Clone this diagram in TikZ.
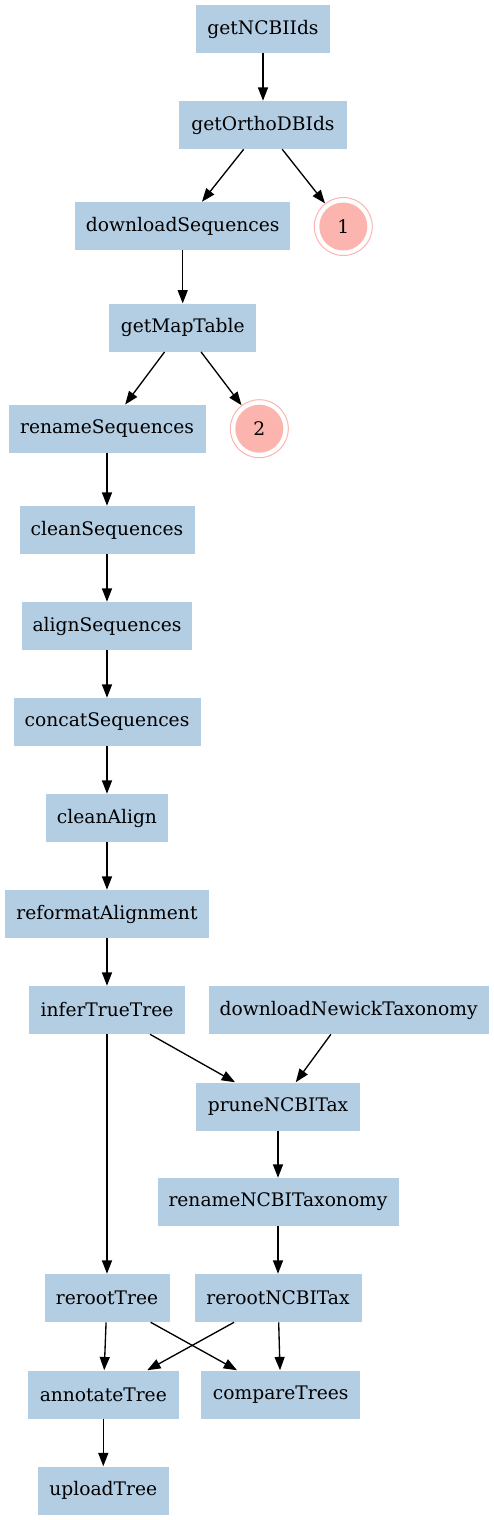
\documentclass[tikz,border=0pt]{standalone}
\usepackage{fontspec}
\setmainfont{DejaVu Serif}
\usetikzlibrary{arrows.meta}
\definecolor{boxblue}{HTML}{B3CDE3}
\definecolor{salmon}{HTML}{FBB4AE}
\begin{document}
\begin{tikzpicture}[x=0.75pt,y=-0.75pt,
  gbox/.style={fill=boxblue, minimum height=36pt, minimum width=#1*0.75pt, inner sep=0pt, font=\fontsize{14pt}{16pt}\selectfont},
  gbox/.default=72,
  dcirc/.style={circle, draw=salmon, line width=0.75pt, minimum size=43.5pt, inner sep=0pt,
    path picture={\fill[salmon] (path picture bounding box.center) circle (18pt);},
    font=\fontsize{14pt}{16pt}\selectfont},
  arr/.style={line width=1pt, -{Triangle[length=10pt,width=7.5pt]}}]
\useasboundingbox (0,0) rectangle (493,1520);
\node[gbox=134] (ncbi) at (263,29) {getNCBIIds};
\node[gbox=168] (ortho) at (263,125) {getOrthoDBIds};
\node[gbox=215] (dlseq) at (182.7,226) {downloadSequences};
\node[dcirc] (c1) at (343.3,226.5) {1};
\node[gbox=147] (map) at (182.7,327.7) {getMapTable};
\node[gbox=197] (rename) at (107,428.8) {renameSequences};
\node[dcirc] (c2) at (259.3,428.7) {2};
\node[gbox=175] (clean) at (107,530) {cleanSequences};
\node[gbox=170] (align) at (107,626) {alignSequences};
\node[gbox=187] (concat) at (107,722) {concatSequences};
\node[gbox=122] (calign) at (107,818) {cleanAlign};
\node[gbox=204] (reformat) at (107,914) {reformatAlignment};
\node[gbox=156] (infer) at (107,1010) {inferTrueTree};
\node[gbox=280] (newick) at (348.7,1010) {downloadNewickTaxonomy};
\node[gbox=164] (prune) at (278,1106.5) {pruneNCBITax};
\node[gbox=241] (rntax) at (278,1202) {renameNCBITaxonomy};
\node[gbox=125] (reroot) at (107,1298) {rerootTree};
\node[gbox=167] (rerootn) at (278,1298) {rerootNCBITax};
\node[gbox=151] (annot) at (103.3,1394.5) {annotateTree};
\node[gbox=159] (compare) at (280.7,1394.5) {compareTrees};
\node[gbox=131] (upload) at (103.3,1490.5) {uploadTree};
\draw[arr] (ncbi) -- (ortho);
\draw[arr] (ortho) -- (dlseq);
\draw[arr] (ortho) -- (c1);
\draw[arr] (dlseq) -- (map);
\draw[arr] (map) -- (rename);
\draw[arr] (map) -- (c2);
\draw[arr] (rename) -- (clean);
\draw[arr] (clean) -- (align);
\draw[arr] (align) -- (concat);
\draw[arr] (concat) -- (calign);
\draw[arr] (calign) -- (reformat);
\draw[arr] (reformat) -- (infer);
\draw[arr] (infer) -- (reroot);
\draw[arr] (infer) -- (prune);
\draw[arr] (newick) -- (prune);
\draw[arr] (prune) -- (rntax);
\draw[arr] (rntax) -- (rerootn);
\draw[arr] (reroot) -- (annot);
\draw[arr] (reroot) -- (compare);
\draw[arr] (rerootn) -- (annot);
\draw[arr] (rerootn) -- (compare);
\draw[arr] (annot) -- (upload);
\end{tikzpicture}
\end{document}
